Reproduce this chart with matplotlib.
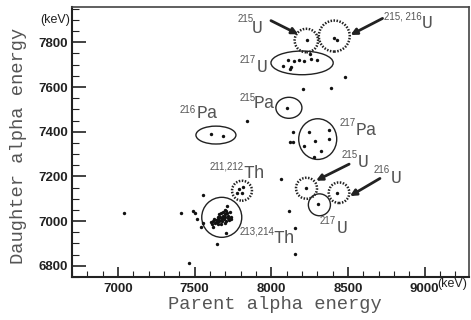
import matplotlib
matplotlib.use("Agg")
import matplotlib.pyplot as plt
from matplotlib.patches import Ellipse
from matplotlib.ticker import MultipleLocator, FixedLocator

# ---------------- data (keV) ----------------
parent_E = [
    8231, 8409, 8430,
    8252, 8109, 8150, 8183, 8213, 8257, 8296, 8074, 8128, 8122,
    8481, 8204, 8387,
    8104, 7839,
    7609, 7683,
    8244, 8378, 8287, 8374, 8213, 8326, 8282,
    8139, 8122, 8139,
    8226, 8430, 8302, 8061, 8113, 8157, 8152,
    7787, 7813, 7774, 7806,
    7041, 7413, 7487, 7500, 7517, 7556, 7543, 7552, 7648, 7713, 7704, 7465,
    7610, 7615, 7622, 7630, 7628, 7640, 7645, 7650, 7655, 7660, 7662, 7668,
    7670, 7675, 7678, 7680, 7685, 7688, 7690, 7695, 7700, 7702, 7705, 7710,
    7715, 7720, 7725, 7730, 7735, 7740, 7670, 7695, 7650, 7620, 7700,
]
daughter_E = [
    7809, 7818, 7809,
    7746, 7719, 7716, 7721, 7716, 7724, 7721, 7694, 7691, 7681,
    7646, 7590, 7597,
    7505, 7447,
    7390, 7381,
    7400, 7408, 7358, 7368, 7336, 7312, 7288,
    7397, 7355, 7355,
    7147, 7124, 7076, 7188, 7047, 6970, 6851,
    7143, 7151, 7124, 7124,
    7035, 7038, 7047, 7038, 7008, 6993, 6975, 7117, 6897, 7067, 6948, 6814,
    6995, 6985, 7000, 6990, 7010, 7005, 6995, 7020, 7010, 7000, 7030, 7020,
    7005, 7035, 7015, 7000, 7025, 7040, 7010, 7030, 7020, 7000, 7045, 7035,
    7015, 7025, 7005, 7040, 7020, 7010, 6985, 6990, 6985, 6975, 7050,
]

x_tick_labels = ["7000", "7500", "8000", "8500", "9000"]
y_tick_labels = ["6800", "7000", "7200", "7400", "7600", "7800"]

# group annotations: (center x, center y, width, height, dotted)
groups = [
    (8229, 7808, 153, 105, True),    # 215U
    (8411, 7828, 202, 139, True),    # 215,216U
    (8201, 7708, 406, 106, False),   # 217U
    (8115, 7507, 170, 94, False),    # 215Pa
    (7639, 7385, 261, 80, False),    # 216Pa
    (8303, 7367, 248, 182, False),   # 217Pa
    (7809, 7136, 130, 89, True),     # 211,212Th
    (7677, 7017, 261, 179, False),   # 213,214Th
    (8230, 7147, 137, 94, True),     # 215U (low)
    (8442, 7127, 134, 92, True),     # 216U
    (8314, 7073, 144, 98, False),    # 217U (low)
]

# labels: (mass text, x, y, symbol, x, y)
labels = [
    ("215", 7778, 7892, "U", 7872, 7840),
    ("215, 216", 8735, 7900, "U", 8981, 7863),
    ("217", 7791, 7706, "U", 7905, 7668),
    ("215", 7791, 7539, "Pa", 7887, 7505),
    ("216", 7404, 7482, "Pa", 7513, 7460),
    ("217", 8448, 7425, "Pa", 8553, 7385),
    ("215", 8459, 7281, "U", 8567, 7243),
    ("216", 8670, 7214, "U", 8779, 7169),
    ("217", 8318, 6987, "U", 8427, 6945),
    ("211,212", 7600, 7229, "Th", 7817, 7191),
    ("213,214", 7791, 6942, "Th", 8013, 6901),
]

arrows = [
    ((7998, 7897), (8176, 7836)),
    ((8726, 7907), (8517, 7833)),
    ((8508, 7255), (8292, 7181)),
    ((8709, 7191), (8513, 7112)),
]

# ---------------- figure ----------------
fig = plt.figure(figsize=(4.71, 3.20), dpi=100)
ax = fig.add_axes([72 / 471, 43 / 320, 397 / 471, 270 / 320])

ax.scatter(parent_E, daughter_E, s=6, color="#111111", linewidths=0, zorder=3)

ax.set_xlim(6700, 9290)
ax.set_ylim(6750, 7958)

for cx, cy, w, h, dotted in groups:
    e = Ellipse((cx, cy), w, h, fill=False, edgecolor="#222222",
                lw=1.8 if dotted else 1.0,
                linestyle=(0, (0.6, 0.6)) if dotted else "-", zorder=2)
    ax.add_patch(e)

grey = "#555555"
for num, nx, ny, sym, sx, sy in labels:
    ax.text(nx, ny, num, fontsize=7, family="Liberation Sans", color=grey,
            ha="left", va="baseline")
    ax.text(sx, sy, sym, fontsize=13, family="Liberation Mono", color=grey,
            ha="left", va="baseline")

for (x0, y0), (x1, y1) in arrows:
    ax.annotate("", xy=(x1, y1), xytext=(x0, y0),
                arrowprops=dict(arrowstyle="-|>", lw=2, color="#222222",
                                mutation_scale=9, shrinkA=0, shrinkB=0))

# ticks
ax.xaxis.set_major_locator(FixedLocator([int(t) for t in x_tick_labels]))
ax.set_xticklabels(x_tick_labels)
ax.xaxis.set_minor_locator(MultipleLocator(100))
ax.yaxis.set_major_locator(FixedLocator([int(t) for t in y_tick_labels]))
ax.set_yticklabels(y_tick_labels)
ax.yaxis.set_minor_locator(MultipleLocator(50))

ax.tick_params(axis="both", which="both", direction="in", colors="#222222")
ax.tick_params(axis="x", which="major", length=7, width=1.2, pad=4)
ax.tick_params(axis="x", which="minor", length=4, width=0.8)
ax.tick_params(axis="y", which="major", length=10, width=1.2, pad=3)
ax.tick_params(axis="y", which="minor", length=5, width=0.8)
for lab in ax.get_xticklabels() + ax.get_yticklabels():
    lab.set_fontfamily("Liberation Sans")
    lab.set_fontweight("bold")
    lab.set_fontsize(9.5)
    lab.set_color("#222222")

for side in ["left", "bottom"]:
    ax.spines[side].set_linewidth(1.5)
    ax.spines[side].set_color("#222222")
for side in ["top", "right"]:
    ax.spines[side].set_linewidth(1.2)
    ax.spines[side].set_color("#444444")

ax.set_xlabel("Parent alpha energy", family="Liberation Mono", fontsize=13.5, color=grey)
ax.set_ylabel("Daughter alpha energy", family="Liberation Mono", fontsize=13.5, color=grey)
ax.xaxis.set_label_coords(0.511, -0.072)
ax.yaxis.set_label_coords(-0.113, 0.485)

ax.text(-0.005, 0.952, "(keV)", transform=ax.transAxes, ha="right", va="center",
        fontsize=9, family="Liberation Sans", color="#222222")
ax.text(0.995, -0.027, "(keV)", transform=ax.transAxes, ha="right", va="center",
        fontsize=9, family="Liberation Sans", color="#222222")

fig.savefig("out.png", dpi=100)
